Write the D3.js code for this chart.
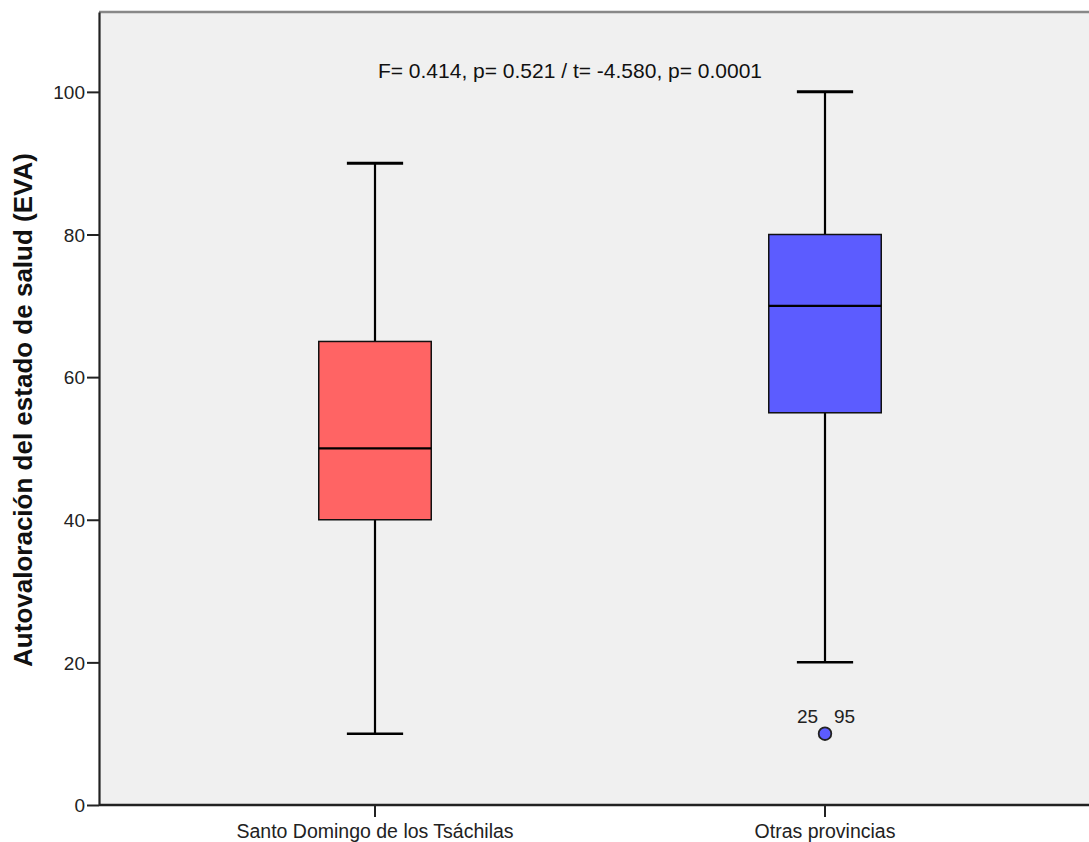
<!DOCTYPE html>
<html><head><meta charset="utf-8">
<script src="https://cdn.jsdelivr.net/npm/d3@7/dist/d3.min.js"></script>
<style>body{margin:0;background:#fff}svg{display:block}text{font-family:"Liberation Sans",Arial,sans-serif}</style>
</head><body><svg id="c" width="1089" height="842"></svg>
<script>
const categories = ["Santo Domingo de los Tsáchilas", "Otras provincias"];
const mins = [10, 20];
const q1s = [40, 55];
const medians = [50, 70];
const q3s = [65, 80];
const maxs = [90, 100];
const outlierValues = [[], [10]];
const outlierLabels = [[], ["25   95"]];
const colors = ["#ff6464", "#5c5cff"];
const yTicks = [0, 20, 40, 60, 80, 100];
const annotation = "F= 0.414, p= 0.521 / t= -4.580, p= 0.0001";
const yTitle = "Autovaloración del estado de salud (EVA)";

const svg = d3.select("#c");
const L = 99, R = 1089, T = 12, B = 805;
const FF = '"Liberation Sans",Arial,sans-serif';
const y = d3.scaleLinear().domain([0, 111.2]).range([B, T]);
const x = d3.scaleBand().domain(categories).range([150, 1050]).paddingInner(0.75).paddingOuter(0.375);

svg.append("rect").attr("x", L).attr("y", T).attr("width", R - L).attr("height", B - T).attr("fill", "#f0f0f0");
svg.append("line").attr("x1", L).attr("x2", R).attr("y1", T).attr("y2", T).attr("stroke", "#888").attr("stroke-width", 2.5);

const bw = x.bandwidth();
categories.forEach((c, i) => {
  const cx = x(c) + bw / 2;
  const g = svg.append("g");
  g.append("line").attr("x1", cx).attr("x2", cx).attr("y1", y(maxs[i])).attr("y2", y(q3s[i])).attr("stroke", "#000").attr("stroke-width", 2.2);
  g.append("line").attr("x1", cx).attr("x2", cx).attr("y1", y(q1s[i])).attr("y2", y(mins[i])).attr("stroke", "#000").attr("stroke-width", 2.2);
  g.append("line").attr("x1", cx - bw / 4).attr("x2", cx + bw / 4).attr("y1", y(maxs[i])).attr("y2", y(maxs[i])).attr("stroke", "#000").attr("stroke-width", 3);
  g.append("line").attr("x1", cx - bw / 4).attr("x2", cx + bw / 4).attr("y1", y(mins[i])).attr("y2", y(mins[i])).attr("stroke", "#000").attr("stroke-width", 2.5);
  g.append("rect").attr("x", x(c)).attr("width", bw).attr("y", y(q3s[i])).attr("height", y(q1s[i]) - y(q3s[i]))
    .attr("fill", colors[i]).attr("stroke", "#111").attr("stroke-width", 1.5);
  g.append("line").attr("x1", x(c)).attr("x2", x(c) + bw).attr("y1", y(medians[i])).attr("y2", y(medians[i])).attr("stroke", "#000").attr("stroke-width", 2.2);
  outlierValues[i].forEach((v, j) => {
    g.append("circle").attr("cx", cx).attr("cy", y(v)).attr("r", 6.3).attr("fill", colors[i]).attr("stroke", "#222").attr("stroke-width", 1.8);
    g.append("text").attr("x", cx + 1).attr("y", y(v) - 11).attr("text-anchor", "middle").attr("font-size", 19).attr("fill", "#222")
      .style("white-space", "pre").text(outlierLabels[i][j]);
  });
});

const ya = svg.append("g").attr("transform", `translate(${L},0)`).call(d3.axisLeft(y).tickValues(yTicks).tickSize(12).tickSizeOuter(0));
ya.select(".domain").attr("stroke", "#222").attr("stroke-width", 2.2);
ya.selectAll(".tick line").attr("stroke", "#222").attr("stroke-width", 2);
ya.selectAll(".tick text").attr("font-size", 19).attr("fill", "#222").attr("x", -14).attr("dy", "0.35em").attr("font-family", FF);

const xa = svg.append("g").attr("transform", `translate(0,${B})`).call(d3.axisBottom(x).tickSize(12).tickSizeOuter(0));
xa.select(".domain").remove();
svg.append("line").attr("x1", L).attr("x2", R).attr("y1", B).attr("y2", B).attr("stroke", "#222").attr("stroke-width", 2.5);
xa.selectAll(".tick line").attr("stroke", "#222").attr("stroke-width", 2);
xa.selectAll(".tick text").attr("font-size", 19.5).attr("fill", "#222").attr("y", 33).attr("dy", 0).attr("font-family", FF);

svg.append("text").attr("x", 570).attr("y", 78).attr("text-anchor", "middle").attr("font-size", 21).attr("fill", "#111").text(annotation);
svg.append("text").attr("transform", `translate(32,410) rotate(-90)`).attr("text-anchor", "middle")
  .attr("font-size", 26).attr("font-weight", "bold").attr("fill", "#111").text(yTitle);
</script></body></html>
